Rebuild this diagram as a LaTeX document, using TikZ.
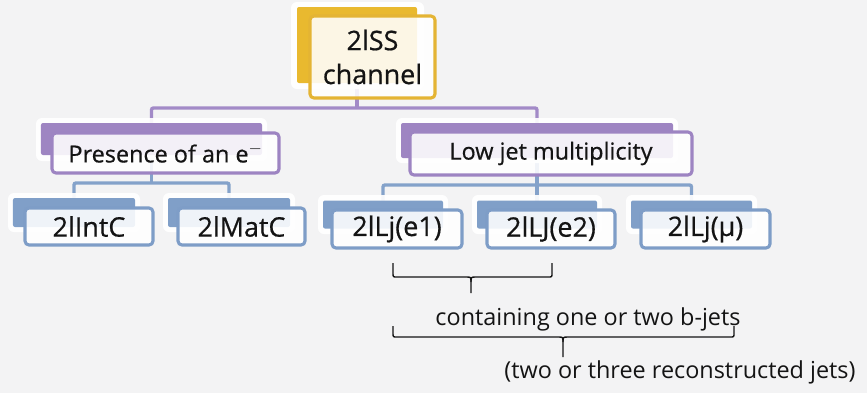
\documentclass[tikz,border=0pt]{standalone}
\usepackage{fontspec}
\setmainfont{Open Sans}
\newfontfamily\boxface[FakeBold=0.6]{Open Sans}
\pgfdeclarelayer{canvas}
\pgfdeclarelayer{links}
\pgfsetlayers{canvas,links,main}

\definecolor{canvasgray}{HTML}{F3F3F4}
\definecolor{goldfill}{HTML}{E9B92F}
\definecolor{golddraw}{HTML}{E4B434}
\definecolor{lavfill}{HTML}{9E85C2}
\definecolor{lavdraw}{HTML}{9D84C2}
\definecolor{lavline}{HTML}{A28AC7}
\definecolor{bluefill}{HTML}{809FC8}
\definecolor{bluedraw}{HTML}{7E9DC7}
\definecolor{blueline}{HTML}{84A2CA}
\definecolor{inkcol}{HTML}{141414}

\tikzset{
  halo/.style={fill=white, fill opacity=.92, rounded corners=6bp},
  backbox/.style={fill=#1, draw=none, rounded corners=2bp, inner sep=0pt, outer sep=0pt},
  frontbox/.style={fill=white, fill opacity=.88, text opacity=1, draw=#1,
    line width=3.1bp, rounded corners=4bp, inner sep=0pt, text=inkcol},
  link/.style={draw=#1, line width=3.4bp, rounded corners=2bp},
  bracepath/.style={draw=inkcol, line width=1.4bp, line join=round},
  bigtxt/.style={font=\boxface\fontsize{27}{34}\selectfont},
  midtxt/.style={font=\boxface\fontsize{23.5}{28}\selectfont},
  note/.style={text=inkcol, font=\fontsize{23.5}{28}\selectfont, inner sep=0pt, anchor=base},
}

\begin{document}
\begin{tikzpicture}[x=1bp,y=-1bp]
\begin{pgfonlayer}{canvas}
  \fill[canvasgray] (0,0) rectangle (867,393);
\end{pgfonlayer}
\useasboundingbox (0,0) rectangle (867,393);

% root
\fill[halo] (291,2) rectangle (424,89);
\node[backbox=goldfill, minimum width=120bp, minimum height=76bp] (topB) at (357,45) {};
\node[frontbox=golddraw, minimum width=125bp, minimum height=82bp, align=center, bigtxt] (top) at (372.5,57) {2lSS\\channel};

% second tier
\fill[halo] (36,118) rectangle (267,161);
\node[backbox=lavfill, minimum width=221bp, minimum height=32bp] (presB) at (151.5,139) {};
\node[frontbox=lavdraw, minimum width=227bp, minimum height=40bp, midtxt] (pres) at (165.5,153) {Presence of an e$^{-}$};

\fill[halo] (396,118) rectangle (678,163);
\node[backbox=lavfill, minimum width=272bp, minimum height=35bp] (lowB) at (537,140.5) {};
\node[frontbox=lavdraw, minimum width=282bp, minimum height=43bp, midtxt] (low) at (551,153.5) {Low jet multiplicity};

% third tier
\fill[halo] (8,193) rectangle (140,232);
\node[backbox=bluefill, minimum width=122bp, minimum height=29bp] (intB) at (74,212.5) {};
\node[frontbox=bluedraw, minimum width=128bp, minimum height=37bp, bigtxt] (int) at (89,226.5) {2lIntC};

\fill[halo] (163,193) rectangle (295,232);
\node[backbox=bluefill, minimum width=122bp, minimum height=29bp] (matB) at (229,212.5) {};
\node[frontbox=bluedraw, minimum width=127bp, minimum height=37bp, bigtxt] (mat) at (241.5,226.5) {2lMatC};

\fill[halo] (318,195) rectangle (448,234);
\node[backbox=bluefill, minimum width=120bp, minimum height=28bp] (eaB) at (383,214.5) {};
\node[frontbox=bluedraw, minimum width=130bp, minimum height=38bp, bigtxt] (ea) at (397,229) {2lLj(e1)};

\fill[halo] (472,195) rectangle (602,234);
\node[backbox=bluefill, minimum width=120bp, minimum height=28bp] (ebB) at (537,214.5) {};
\node[frontbox=bluedraw, minimum width=128bp, minimum height=38bp, bigtxt] (eb) at (551,229) {2lLJ(e2)};

\fill[halo] (626,195) rectangle (757,234);
\node[backbox=bluefill, minimum width=121bp, minimum height=28bp] (muB) at (691.5,214.5) {};
\node[frontbox=bluedraw, minimum width=129bp, minimum height=38bp, bigtxt] (mu) at (705.5,229) {2lLj(μ)};

% connectors
\begin{pgfonlayer}{links}
  \draw[link=lavline] (topB.center) -- (topB.center |- 0,108);
  \draw[link=lavline] (presB.north) |- (topB.center |- 0,108) -| (lowB.north);
  \draw[link=blueline] (presB.center) -- (presB.center |- 0,183);
  \draw[link=blueline] (intB.north) |- (presB.center |- 0,183) -| (matB.north);
  \draw[link=blueline] (lowB.center) -- (lowB.center |- 0,185);
  \draw[link=blueline] (eaB.north) |- (lowB.center |- 0,185) -| (muB.north);
  \draw[link=blueline] (lowB.center |- 0,185) -- (ebB.north);
\end{pgfonlayer}

% braces and notes
\draw[bracepath] (393,263) -- (393,273) .. controls (393,277) .. (397,277) -- (466,277)
  .. controls (471,277) .. (471,282) -- (471,293);
\draw[bracepath] (552,263) -- (552,273) .. controls (552,277) .. (548,277) -- (476,277)
  .. controls (471,277) .. (471,282);
\node[note] (bjets) at (588,325) {containing one or two b-jets};

\draw[bracepath] (393,326) -- (393,333) .. controls (393,337) .. (397,337) -- (558,337)
  .. controls (563,337) .. (563,342) -- (563,357);
\draw[bracepath] (734,326) -- (734,333) .. controls (734,337) .. (730,337) -- (568,337)
  .. controls (563,337) .. (563,342);
\node[note] (recojets) at (680,378) {(two or three reconstructed jets)};
\end{tikzpicture}
\end{document}
